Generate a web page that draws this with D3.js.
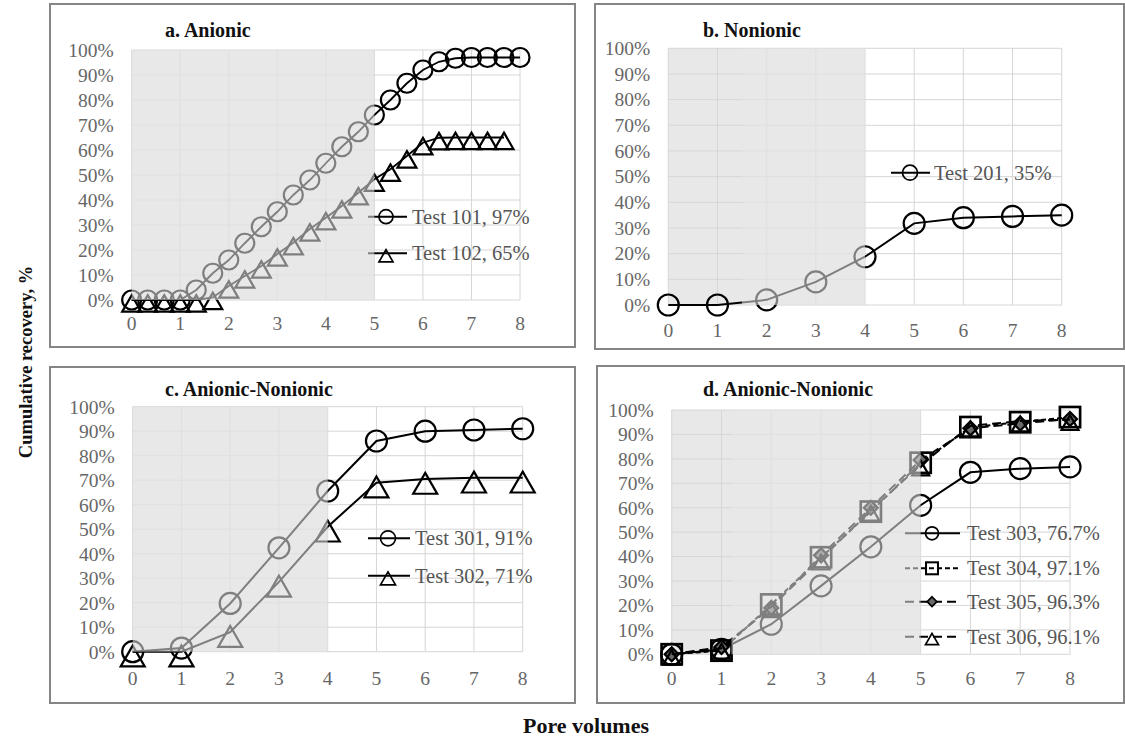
<!DOCTYPE html>
<html>
<head>
<meta charset="utf-8">
<script src="https://cdn.jsdelivr.net/npm/d3@7"></script>
<style>
  body { margin: 0; background: #fff; }
  svg { display: block; }
  text { font-family: "Liberation Serif", "Times New Roman", serif; }
</style>
</head>
<body>
<svg id="chart" width="1125" height="740"></svg>
<script>
// ---- data -------------------------------------------------------------
const poreTicks = [0, 1, 2, 3, 4, 5, 6, 7, 8];
const recoveryTicks = [0, 10, 20, 30, 40, 50, 60, 70, 80, 90, 100];

// a. Anionic: sampled every third of a pore volume
const pvA101 = [0, 0.33, 0.67, 1, 1.33, 1.67, 2, 2.33, 2.67, 3, 3.33, 3.67, 4, 4.33, 4.67, 5, 5.33, 5.67, 6, 6.33, 6.67, 7, 7.33, 7.67, 8];
const test101 = [0, 0, 0, 0, 4, 10.7, 16, 22.7, 29.3, 35.3, 42, 48, 54.7, 61.3, 67.3, 74, 80, 86.7, 92, 95.3, 96.7, 97, 97, 97, 97];
const pvA102 = [0, 0.33, 0.67, 1, 1.33, 1.67, 2, 2.33, 2.67, 3, 3.33, 3.67, 4, 4.33, 4.67, 5, 5.33, 5.67, 6, 6.33, 6.67, 7, 7.33, 7.67];
const test102 = [0, 0, 0, 0, 0, 1, 5.6, 9.6, 13.6, 18.4, 22.9, 28.4, 32.9, 37.6, 42.9, 48.3, 52.3, 57.6, 62.9, 64.9, 65, 65, 65, 65];

// b. Nonionic, c./d. Anionic-Nonionic: one value per pore volume
const pvWhole = [0, 1, 2, 3, 4, 5, 6, 7, 8];
const test201 = [0, 0, 2, 9, 18.8, 31.8, 34, 34.5, 35];
const test301 = [0, 1.5, 19.7, 42.4, 65.6, 86, 90, 90.5, 91];
const test302 = [0, 0, 8, 28.5, 51, 69, 70.5, 71, 71];
const test303 = [0, 2, 12.3, 28, 44, 61, 74.5, 76, 76.7];
const test304 = [0, 1.5, 20.4, 39.7, 58.4, 78.4, 93, 95, 97.1];
const test305 = [0, 3, 19, 40.5, 60, 79.5, 92.5, 94.5, 96.3];
const test306 = [0, 2.5, 19.5, 39, 59, 77.5, 93.5, 95.5, 96.1];

const panelTitles = ["a. Anionic", "b. Nonionic", "c. Anionic-Nonionic", "d. Anionic-Nonionic"];
const slugEnds = [5, 4, 4, 5];   // pore volume where the surfactant slug ends

// ---- layout -----------------------------------------------------------
const svg = d3.select("#chart");
const FONT_TICK = 19.5, FONT_LEG = 20.5, FONT_TITLE = 20;
const SHADE = "#e8e8e8";

const panels = [
  { frame: [50, 4, 575, 347], plot: [131.7, 520, 300, 50], title: [165, 36.7], tickDy: 23, overlayFrom: 0, lw: 1.8,
    series: [
      { x: pvA101, y: test101, label: "Test 101, 97%", marker: "circle", size: 19, dash: null },
      { x: pvA102, y: test102, label: "Test 102, 65%", marker: "triangle", size: 19, dash: null }
    ],
    legend: { x0: 368, x1: 407, mx: 386, tx: 412, rows: [216.7, 253.3], size: 14 } },
  { frame: [595, 4, 1124, 349], plot: [668.3, 1061.7, 305, 48.3], title: [703, 36.7], tickDy: 25, overlayFrom: 1.5, lw: 2,
    series: [
      { x: pvWhole, y: test201, label: "Test 201, 35%", marker: "circle", size: 21, dash: null }
    ],
    legend: { x0: 891, x1: 930, mx: 910, tx: 934, rows: [172.7], size: 15 } },
  { frame: [50, 367, 575, 703], plot: [132.7, 522.7, 651.7, 406.7], title: [165, 395.7], tickDy: 26, overlayFrom: 0, lw: 2,
    series: [
      { x: pvWhole, y: test301, label: "Test 301, 91%", marker: "circle", size: 21, dash: null },
      { x: pvWhole, y: test302, label: "Test 302, 71%", marker: "triangle", size: 24, dash: null }
    ],
    legend: { x0: 368, x1: 410, mx: 388, tx: 415, rows: [538.3, 575.7], size: 15 } },
  { frame: [597, 366, 1124, 703], plot: [671.7, 1070, 654.3, 410], title: [703, 395.7], tickDy: 24, overlayFrom: 1.2, lw: 2,
    series: [
      { x: pvWhole, y: test303, label: "Test 303, 76.7%", marker: "circle", size: 21, dash: null },
      { x: pvWhole, y: test304, label: "Test 304, 97.1%", marker: "square", size: 22, dash: "5,3" },
      { x: pvWhole, y: test305, label: "Test 305, 96.3%", marker: "diamond", size: 14, dash: "9,5" },
      { x: pvWhole, y: test306, label: "Test 306, 96.1%", marker: "triangle", size: 17, dash: "9,5" }
    ],
    legend: { x0: 905, x1: 960, mx: 932, tx: 967, rows: [533.3, 568.3, 601.7, 636.7], size: 13 } }
];

// draw one marker symbol centred on (cx, cy)
function drawMarker(g, type, cx, cy, size, sw) {
  if (type === "circle") {
    g.append("circle").attr("cx", cx).attr("cy", cy).attr("r", size / 2)
      .attr("fill", "none").attr("stroke", "#000").attr("stroke-width", sw);
  } else if (type === "triangle") {
    const w = size, h = size * 0.87, off = size * 0.18;
    g.append("path")
      .attr("d", `M${cx},${cy - h / 2 + off} L${cx + w / 2},${cy + h / 2 + off} L${cx - w / 2},${cy + h / 2 + off} Z`)
      .attr("fill", "none").attr("stroke", "#000").attr("stroke-width", sw).attr("stroke-linejoin", "miter");
  } else if (type === "square") {
    const s = size * 0.92;
    g.append("rect").attr("x", cx - s / 2).attr("y", cy - s / 2).attr("width", s).attr("height", s)
      .attr("fill", "none").attr("stroke", "#000").attr("stroke-width", sw * 1.2);
  } else if (type === "diamond") {
    const s = size / 2;
    g.append("path").attr("d", `M${cx},${cy - s} L${cx + s},${cy} L${cx},${cy + s} L${cx - s},${cy} Z`)
      .attr("fill", "#6a6a6a").attr("stroke", "#000").attr("stroke-width", sw);
  }
}

panels.forEach((p, i) => {
  const [fx0, fy0, fx1, fy1] = p.frame;
  const [px0, px1, py0, py1] = p.plot;
  const x = d3.scaleLinear().domain([0, 8]).range([px0, px1]);
  const y = d3.scaleLinear().domain([0, 100]).range([py0, py1]);
  const g = svg.append("g");

  // panel frame
  g.append("rect").attr("x", fx0).attr("y", fy0).attr("width", fx1 - fx0).attr("height", fy1 - fy0)
    .attr("fill", "#fff").attr("stroke", "#858585").attr("stroke-width", 2);

  // shaded slug-injection band
  g.append("rect").attr("x", x(0)).attr("y", y(100)).attr("width", x(slugEnds[i]) - x(0)).attr("height", y(0) - y(100))
    .attr("fill", SHADE);

  // gridlines
  const grid = g.append("g").attr("stroke", "#d6d6d6").attr("stroke-width", 1);
  grid.selectAll("line.h").data(recoveryTicks).join("line")
    .attr("x1", x(0)).attr("x2", x(8)).attr("y1", d => y(d)).attr("y2", d => y(d));
  grid.selectAll("line.v").data(poreTicks).join("line")
    .attr("x1", d => x(d)).attr("x2", d => x(d)).attr("y1", y(0)).attr("y2", y(100));

  // axis tick labels
  g.append("g").selectAll("text").data(recoveryTicks).join("text")
    .attr("x", px0 - 18).attr("y", d => y(d)).attr("dy", "0.35em")
    .attr("text-anchor", "end").attr("font-size", FONT_TICK).attr("fill", "#666")
    .text(d => d + "%");
  g.append("g").selectAll("text").data(poreTicks).join("text")
    .attr("x", d => x(d)).attr("y", py0 + p.tickDy).attr("dy", "0.35em")
    .attr("text-anchor", "middle").attr("font-size", FONT_TICK).attr("fill", "#666")
    .text(d => d);

  // panel title
  g.append("text").attr("x", p.title[0]).attr("y", p.title[1])
    .attr("font-size", FONT_TITLE).attr("font-weight", "bold").attr("fill", "#111")
    .text(panelTitles[i]);

  // series
  const line = d3.line().x(d => x(d[0])).y(d => y(d[1]));
  p.series.forEach(s => {
    const pts = s.x.map((v, k) => [v, s.y[k]]);
    g.append("path").datum(pts).attr("d", line)
      .attr("fill", "none").attr("stroke", "#000").attr("stroke-width", p.lw)
      .attr("stroke-dasharray", s.dash);
    const mg = g.append("g");
    pts.forEach(d => drawMarker(mg, s.marker, x(d[0]), y(d[1]), s.size, 2.2));
  });

  // legend
  const L = p.legend;
  p.series.forEach((s, k) => {
    const ly = L.rows[k];
    g.append("line").attr("x1", L.x0).attr("x2", L.x1).attr("y1", ly).attr("y2", ly)
      .attr("stroke", "#000").attr("stroke-width", 2).attr("stroke-dasharray", s.dash);
    const legSize = s.marker === "diamond" ? L.size * 0.75 : L.size;
    drawMarker(g, s.marker, L.mx, ly, legSize, 1.7);
    g.append("text").attr("x", L.tx).attr("y", ly).attr("dy", "0.35em")
      .attr("font-size", FONT_LEG).attr("fill", "#555")
      .text(s.label);
  });

  // translucent wash over everything inside the slug band
  g.append("rect").attr("x", x(p.overlayFrom)).attr("y", y(100))
    .attr("width", x(slugEnds[i]) - x(p.overlayFrom)).attr("height", y(0) - y(100))
    .attr("fill", SHADE).attr("fill-opacity", 0.55);
});

// shared axis titles
svg.append("text").attr("transform", "translate(32,362) rotate(-90)")
  .attr("text-anchor", "middle").attr("font-size", 18.5).attr("font-weight", "bold").attr("fill", "#111")
  .text("Cumulative recovery, %");
svg.append("text").attr("x", 586).attr("y", 733)
  .attr("text-anchor", "middle").attr("font-size", 22).attr("font-weight", "bold").attr("fill", "#111")
  .text("Pore volumes");
</script>
</body>
</html>
